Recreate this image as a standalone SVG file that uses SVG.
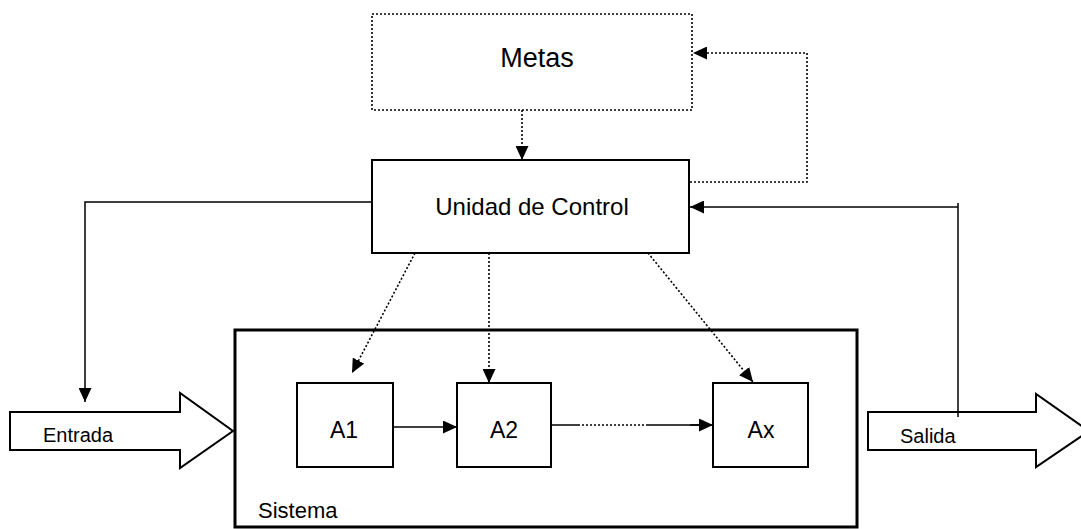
<svg xmlns="http://www.w3.org/2000/svg" width="1081" height="529" viewBox="0 0 1081 529">
<style>
.box{fill:#fff;stroke:#000;stroke-width:2}
.thick{fill:none;stroke:#000;stroke-width:3}
.dot{fill:none;stroke:#000;stroke-width:1.6;stroke-dasharray:2,2}
.ln{fill:none;stroke:#000;stroke-width:1.5}
.t{font-family:"Liberation Sans",Arial,sans-serif;fill:#000}
</style>
<defs>
<marker id="ah" markerUnits="userSpaceOnUse" markerWidth="15" markerHeight="13" refX="14" refY="6.5" orient="auto">
<path d="M0,0 L14,6.5 L0,13 Z" fill="#000"/>
</marker>
</defs>
<rect width="1081" height="529" fill="#fff"/>
<g id="metas">
<rect x="372" y="14" width="320" height="96" class="dot" fill="#fff"/>
<text class="t" x="537" y="67" font-size="27" text-anchor="middle">Metas</text>
</g>
<g id="unidad">
<rect x="372" y="160" width="317" height="93" class="box"/>
<text class="t" x="532" y="215" font-size="24" text-anchor="middle">Unidad de Control</text>
</g>
<g id="sistema">
<rect x="235" y="330" width="622" height="197" class="thick"/>
<text class="t" x="258" y="518" font-size="22">Sistema</text>
</g>
<g id="a1">
<rect x="297" y="383" width="96" height="84" class="box"/>
<text class="t" x="344" y="438" font-size="23" text-anchor="middle">A1</text>
</g>
<g id="a2">
<rect x="457" y="383" width="94" height="84" class="box"/>
<text class="t" x="504" y="438" font-size="23" text-anchor="middle">A2</text>
</g>
<g id="ax">
<rect x="713" y="383" width="95" height="84" class="box"/>
<text class="t" x="761" y="438" font-size="23" text-anchor="middle">Ax</text>
</g>
<g id="entrada">
<path d="M10,412 H180 V393 L233,431 L180,468 V450 H10 Z" class="box"/>
<text class="t" x="43" y="442" font-size="20">Entrada</text>
</g>
<g id="salida">
<path d="M868,412 H1036 V394 L1089,431 L1036,467 V450 H868 Z" class="box"/>
<text class="t" x="900" y="443" font-size="20">Salida</text>
</g>
<g id="connectors">
<path d="M522,110 V160" class="dot" marker-end="url(#ah)"/>
<path d="M690,182 H807 V53 H693" class="dot" marker-end="url(#ah)"/>
<path d="M372,202 H85 V402" class="ln" marker-end="url(#ah)"/>
<path d="M958,203 V417" class="ln"/>
<path d="M958,207 H690" class="ln" marker-end="url(#ah)"/>
<path d="M415,253 L352,373" class="dot" marker-end="url(#ah)"/>
<path d="M489,253 V383" class="dot" marker-end="url(#ah)"/>
<path d="M648,253 L753,382" class="dot" marker-end="url(#ah)"/>
<path d="M393,427 H457" class="ln" marker-end="url(#ah)"/>
<path d="M551,425 H578 M648,425 H700" class="ln"/>
<path d="M578,425 H648" class="dot"/>
<path d="M690,425 H713" class="ln" marker-end="url(#ah)"/>
</g>
</svg>
